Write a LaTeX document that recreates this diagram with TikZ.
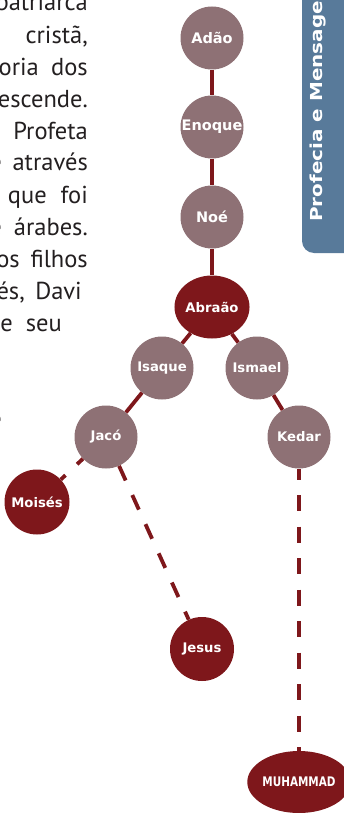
\documentclass[tikz,border=0pt]{standalone}
\usepackage{fontspec}
\usetikzlibrary{shapes.geometric}
\newfontfamily\bodyf{PT Sans}
\newfontfamily\labf{DejaVu Sans}
\definecolor{dred}{HTML}{7E171B}
\definecolor{mauve}{HTML}{8E7175}
\definecolor{tabblue}{HTML}{587A9A}
\definecolor{ink}{HTML}{231F20}
\tikzset{
  person/.style={circle, inner sep=0pt, minimum size=63pt, text=white,
    font=\labf\bfseries\fontsize{13.2}{15}\selectfont},
  big/.style={font=\labf\bfseries\fontsize{14.5}{16}\selectfont},
  anc/.style={person, fill=mauve},
  hero/.style={person, fill=dred},
  oval/.style={ellipse, inner sep=0pt, text=white, fill=dred,
    font=\labf\bfseries\fontsize{13.2}{15}\selectfont},
  link/.style={draw=dred, line width=3.8pt},
  dlink/.style={link, dash pattern=on 16pt off 16pt},
  body/.style={anchor=base east, inner sep=0pt, text=ink,
    font=\bodyf\fontsize{24.5}{28}\selectfont},
  tabtext/.style={anchor=base west, inner sep=0pt, rotate=90, text=white,
    font=\labf\bfseries\fontsize{16.5}{18}\selectfont}
}
\begin{document}
\begin{tikzpicture}[x=1pt,y=-1pt]
\useasboundingbox (0,0) rectangle (343,813);
% side tab
\fill[tabblue, rounded corners=12pt] (302,-30) rectangle (380,253);
\node[tabtext] (tab) at (322.3,222) {\scalebox{1.21}[1]{Profecia e Mensagem}};
% body text
\node[body] (t1) at (88,11) {patriarca};
\node[body] (t2) at (88,44) {cristã,};
\node[body] (t3a) at (39,76) {oria};
\node[body] (t3b) at (88,76) {dos};
\node[body] (t4) at (88,108) {escende.};
\node[body] (t5) at (88,140) {Profeta};
\node[body] (t6a) at (2,171) {e};
\node[body] (t6b) at (88,171) {através};
\node[body] (t7a) at (47,203) {que};
\node[body] (t7b) at (88,203) {foi};
\node[body] (t8a) at (2,235) {e};
\node[body] (t8b) at (88,235) {árabes.};
\node[body] (t9a) at (20,267) {os};
\node[body] (t9b) at (88,267) {filhos};
\node[body] (t10a) at (25,299) {és,};
\node[body] (t10b) at (82,299) {Davi};
\node[body] (t11a) at (13,331) {e};
\node[body] (t11b) at (62,331) {seu};
\node[body] (t14) at (2,427) {e};
% people
\node[anc, big] (adao) at (212,38) {Adão};
\node[anc, big] (enoque) at (212,127) {Enoque};
\node[anc, big] (noe) at (212,217) {Noé};
\node[oval, minimum width=75pt, minimum height=63pt] (abraao) at (212,307) {Abraão};
\node[anc] (isaque) at (162,368) {Isaque};
\node[anc] (ismael) at (257,368) {Ismael};
\node[anc] (jaco) at (106,437) {Jacó};
\node[anc] (kedar) at (299,437) {Kedar};
\node[hero, minimum size=65pt] (moises) at (37,502) {Moisés};
\node[hero, minimum size=64pt] (jesus) at (202,649) {Jesus};
\node[oval, minimum width=90pt, minimum height=62pt] (muhammad) at (299,782) {\scalebox{0.79}[1]{MUHAMMAD}};
% connectors
\draw[link] (adao) -- (enoque);
\draw[link] (enoque) -- (noe);
\draw[link] (noe) -- (abraao);
\draw[link] (abraao) -- (isaque);
\draw[link] (abraao) -- (ismael);
\draw[link] (isaque) -- (jaco);
\draw[link] (ismael) -- (kedar);
\draw[dlink, dash phase=8pt] (jaco) -- (moises);
\draw[dlink] (jaco) -- (jesus);
\draw[link, dash pattern=on 16pt off 15.5pt, dash phase=5pt] (kedar) -- (muhammad);
\end{tikzpicture}
\end{document}
